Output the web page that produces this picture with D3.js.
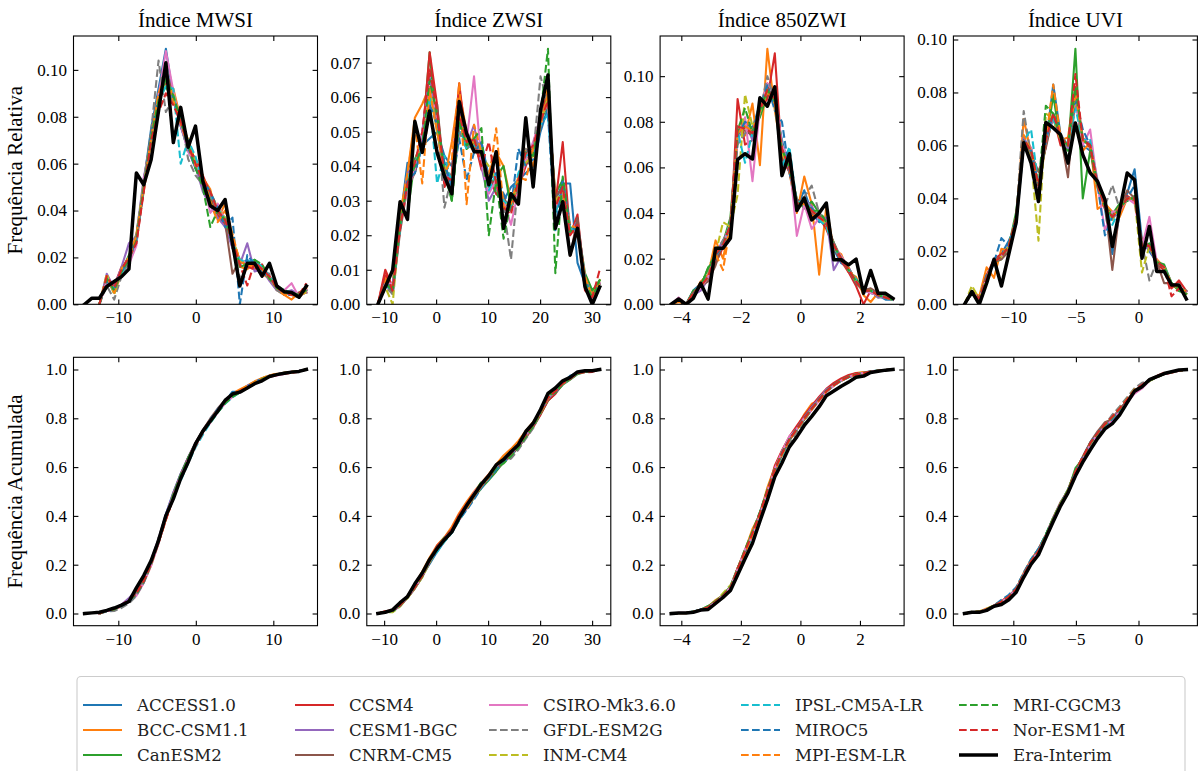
<!DOCTYPE html>
<html><head><meta charset="utf-8">
<script src="https://cdn.jsdelivr.net/npm/d3@7"></script>
<style>body{margin:0;background:#fff}svg{display:block}</style>
</head><body>
<svg id="chart" width="1198" height="771"></svg>
<script>
// ---------------- DATA ----------------
const modelNames = ["ACCESS1.0","BCC-CSM1.1","CanESM2","CCSM4","CESM1-BGC","CNRM-CM5","CSIRO-Mk3.6.0","GFDL-ESM2G","INM-CM4","IPSL-CM5A-LR","MIROC5","MPI-ESM-LR","MRI-CGCM3","Nor-ESM1-M"];
const modelColors = ["#1f77b4","#ff7f0e","#2ca02c","#d62728","#9467bd","#8c564b","#e377c2","#7f7f7f","#bcbd22","#17becf","#1f77b4","#ff7f0e","#2ca02c","#d62728"];
const modelDashed = [false,false,false,false,false,false,false,true,true,true,true,true,true,true];
const refName = "Era-Interim";
const panelTitles = ["Índice MWSI","Índice ZWSI","Índice 850ZWI","Índice UVI"];

// MWSI
const mwsiX = [-14.35,-13.40,-12.44,-11.49,-10.53,-9.58,-8.63,-7.67,-6.72,-5.76,-4.81,-3.86,-2.90,-1.95,-0.99,-0.04,0.91,1.87,2.82,3.78,4.73,5.68,6.64,7.59,8.55,9.50,10.45,11.41,12.36,13.32,14.27];
const mwsiEra = [0,0.0026,0.0026,0.0076,0.0097,0.0118,0.015,0.056,0.051,0.0618,0.0825,0.103,0.069,0.084,0.067,0.076,0.0525,0.042,0.040,0.0447,0.026,0.0078,0.0175,0.0175,0.012,0.0175,0.0078,0.0054,0.005,0.003,0.0078];
const mwsiModels = [
[null,null,0,0.010,0.007,0.015,0.019,0.027,0.052,0.075,0.092,0.109,0.088,0.076,0.066,0.058,0.052,0.046,0.041,0.035,0.025,0.017,0.019,0.016,0.015,0.011,0.007,0.006,0.004,0.003,0.006],
[null,null,0,0.011,0.005,0.013,0.019,0.030,0.048,0.070,0.090,0.096,0.092,0.079,0.070,0.060,0.054,0.049,0.036,0.043,0.029,0.016,0.015,0.018,0.013,0.011,0.006,0.004,0.002,0.005,0.007],
[null,null,0,0.012,0.006,0.014,0.021,0.028,0.050,0.072,0.087,0.093,0.086,0.080,0.069,0.061,0.050,0.045,0.039,0.037,0.024,0.016,0.017,0.019,0.014,0.012,0.008,0.006,0.005,0.004,0.006],
[null,null,0,0.010,0.008,0.016,0.018,0.026,0.049,0.071,0.086,0.095,0.090,0.077,0.067,0.062,0.055,0.047,0.038,0.034,0.027,0.019,0.016,0.015,0.017,0.011,0.008,0.005,0.005,0.004,0.005],
[null,null,0,0.013,0.007,0.016,0.026,0.029,0.054,0.070,0.085,0.097,0.087,0.076,0.066,0.059,0.048,0.042,0.037,0.033,0.024,0.017,0.026,0.014,0.015,0.010,0.006,0.005,0.006,0.004,0.005],
[null,null,0,0.011,0.005,0.015,0.020,0.028,0.051,0.073,0.089,0.100,0.089,0.078,0.068,0.060,0.051,0.047,0.040,0.035,0.013,0.019,0.017,0.018,0.016,0.012,0.007,0.005,0.004,0.005,0.006],
[null,null,0,0.010,0.006,0.014,0.017,0.025,0.053,0.071,0.089,0.108,0.091,0.077,0.065,0.060,0.053,0.039,0.043,0.036,0.027,0.018,0.018,0.017,0.016,0.012,0.007,0.006,0.009,0.003,0.006],
[null,null,0,0.008,0.002,0.012,0.018,0.030,0.052,0.074,0.104,0.082,0.088,0.080,0.062,0.055,0.051,0.046,0.040,0.036,0.027,0.011,0.016,0.019,0.014,0.013,0.006,0.004,0.005,0.004,0.006],
[null,null,0,0.013,0.004,0.015,0.020,0.029,0.051,0.070,0.088,0.094,0.090,0.078,0.070,0.061,0.053,0.048,0.041,0.037,0.028,0.019,0.017,0.017,0.015,0.011,0.007,0.005,0.004,0.004,0.005],
[null,null,0,0.011,0.007,0.013,0.020,0.027,0.050,0.072,0.087,0.093,0.092,0.060,0.070,0.063,0.052,0.047,0.041,0.036,0.026,0.019,0.018,0.019,0.016,0.012,0.007,0.006,0.005,0.003,0.006],
[null,null,0,0.010,0.006,0.014,0.019,0.028,0.049,0.073,0.088,0.097,0.088,0.079,0.067,0.058,0.053,0.048,0.041,0.033,0.037,0.000,0.021,0.017,0.014,0.011,0.008,0.004,0.004,0.004,0.006],
[null,null,0,0.012,0.005,0.015,0.020,0.029,0.050,0.071,0.090,0.098,0.087,0.077,0.068,0.059,0.055,0.044,0.035,0.040,0.030,0.018,0.017,0.016,0.015,0.011,0.007,0.004,0.004,0.003,0.006],
[null,null,0,0.011,0.006,0.014,0.019,0.027,0.050,0.071,0.087,0.096,0.089,0.078,0.068,0.058,0.050,0.033,0.040,0.036,0.026,0.017,0.017,0.019,0.017,0.011,0.007,0.005,0.005,0.004,0.006],
[null,null,0,0.012,0.007,0.015,0.020,0.026,0.048,0.070,0.082,0.090,0.085,0.078,0.068,0.060,0.053,0.048,0.040,0.036,0.027,0.017,0.008,0.018,0.015,0.012,0.007,0.005,0.004,0.004,0.009]
];
const mwsiXTicks = [-10,0,10];
const mwsiYTicks = [0,0.02,0.04,0.06,0.08,0.10];

// ZWSI
const zwsiX = [-11.20,-9.78,-8.36,-6.93,-5.51,-4.09,-2.67,-1.25,0.18,1.60,3.02,4.44,5.86,7.29,8.71,10.13,11.55,12.97,14.40,15.82,17.24,18.66,20.08,21.51,22.93,24.35,25.77,27.19,28.62,30.04,31.46];
const zwsiEra = [0,0.005,0.0099,0.0297,0.0246,0.053,0.044,0.056,0.044,0.037,0.032,0.0587,0.0495,0.0442,0.0442,0.0346,0.0442,0.022,0.032,0.029,0.054,0.034,0.0563,0.0664,0.022,0.0297,0.0143,0.022,0.0051,0,0.005];
const zwsiModels = [
[0,0.006,0.003,0.024,0.041,0.038,0.046,0.048,0.050,0.043,0.040,0.052,0.048,0.046,0.047,0.037,0.032,0.030,0.034,0.036,0.038,0.040,0.050,0.057,0.030,0.035,0.035,0.012,0.006,0.002,0.006],
[0,0.008,0.005,0.026,0.038,0.054,0.058,0.063,0.055,0.036,0.047,0.062,0.050,0.046,0.041,0.038,0.044,0.040,0.030,0.036,0.045,0.040,0.052,0.063,0.028,0.033,0.022,0.020,0.008,0.003,0.007],
[0,0.007,0.005,0.028,0.026,0.042,0.047,0.073,0.050,0.040,0.030,0.054,0.045,0.047,0.041,0.034,0.037,0.040,0.028,0.035,0.042,0.046,0.053,0.058,0.032,0.036,0.022,0.023,0.009,0.004,0.007],
[0,0.010,0.005,0.024,0.036,0.040,0.048,0.073,0.058,0.034,0.038,0.064,0.046,0.048,0.039,0.037,0.032,0.030,0.028,0.034,0.040,0.045,0.055,0.061,0.029,0.047,0.020,0.026,0.006,0.001,0.006],
[0,0.006,0.004,0.022,0.038,0.040,0.050,0.066,0.052,0.038,0.036,0.056,0.046,0.052,0.040,0.030,0.034,0.028,0.030,0.036,0.044,0.046,0.055,0.059,0.030,0.032,0.021,0.024,0.008,0.002,0.006],
[0,0.007,0.003,0.021,0.034,0.038,0.049,0.058,0.058,0.037,0.033,0.050,0.047,0.045,0.043,0.036,0.035,0.031,0.027,0.036,0.043,0.044,0.054,0.060,0.031,0.034,0.014,0.025,0.007,0.002,0.006],
[0,0.006,0.006,0.024,0.033,0.039,0.049,0.062,0.054,0.036,0.034,0.050,0.047,0.066,0.041,0.032,0.036,0.030,0.023,0.033,0.042,0.047,0.054,0.058,0.028,0.033,0.022,0.021,0.007,0.002,0.006],
[0,0.005,0.003,0.022,0.036,0.040,0.046,0.060,0.054,0.028,0.037,0.050,0.045,0.048,0.044,0.036,0.038,0.028,0.013,0.036,0.045,0.043,0.066,0.058,0.027,0.031,0.021,0.022,0.008,0.002,0.005],
[0,0.005,0.000,0.025,0.035,0.042,0.045,0.062,0.050,0.040,0.036,0.055,0.047,0.047,0.043,0.040,0.036,0.030,0.028,0.036,0.041,0.043,0.053,0.060,0.030,0.033,0.022,0.022,0.007,0.002,0.005],
[0,0.006,0.004,0.022,0.037,0.040,0.047,0.060,0.035,0.043,0.035,0.052,0.045,0.046,0.045,0.033,0.038,0.030,0.028,0.038,0.043,0.044,0.052,0.055,0.026,0.034,0.022,0.021,0.007,0.002,0.006],
[0,0.006,0.005,0.023,0.036,0.038,0.046,0.058,0.052,0.041,0.034,0.048,0.036,0.044,0.047,0.036,0.038,0.032,0.028,0.045,0.040,0.042,0.053,0.055,0.021,0.036,0.023,0.021,0.007,0.002,0.006],
[0,0.007,0.005,0.025,0.038,0.052,0.035,0.062,0.050,0.038,0.042,0.064,0.029,0.052,0.044,0.036,0.051,0.028,0.029,0.037,0.036,0.045,0.052,0.061,0.029,0.032,0.023,0.022,0.008,0.002,0.006],
[0,0.006,0.004,0.023,0.035,0.040,0.046,0.065,0.055,0.038,0.030,0.053,0.046,0.048,0.051,0.020,0.036,0.019,0.030,0.035,0.044,0.043,0.055,0.074,0.009,0.037,0.021,0.022,0.006,0.002,0.007],
[0,0.009,0.004,0.022,0.035,0.041,0.050,0.068,0.056,0.037,0.036,0.055,0.047,0.048,0.040,0.047,0.035,0.028,0.026,0.036,0.044,0.046,0.053,0.059,0.028,0.034,0.020,0.023,0.004,0.002,0.010]
];
const zwsiXTicks = [-10,0,10,20,30];
const zwsiYTicks = [0,0.01,0.02,0.03,0.04,0.05,0.06,0.07];

// 850ZWI
const zwiX = [-4.34,-4.09,-3.84,-3.60,-3.35,-3.10,-2.85,-2.60,-2.35,-2.11,-1.86,-1.61,-1.36,-1.11,-0.86,-0.62,-0.37,-0.12,0.13,0.38,0.63,0.87,1.12,1.37,1.62,1.87,2.12,2.36,2.61,2.86,3.11];
const zwiEra = [0,0.0023,0,0.0026,0.0092,0.0023,0.0246,0.0246,0.029,0.0634,0.066,0.0637,0.0905,0.0868,0.0953,0.0564,0.066,0.0411,0.0466,0.037,0.040,0.0444,0.0195,0.0195,0.0173,0.0198,0.0048,0.0148,0.0048,0.0048,0.0026];
const zwiModels = [
[0,0.002,0,0.006,0.009,0.011,0.023,0.025,0.034,0.072,0.080,0.077,0.088,0.092,0.088,0.072,0.058,0.042,0.050,0.040,0.036,0.037,0.024,0.018,0.016,0.010,0.006,0.005,0.004,0.002,0.002],
[0,0.001,0,0.004,0.010,0.013,0.028,0.020,0.036,0.078,0.074,0.088,0.061,0.112,0.085,0.066,0.058,0.040,0.056,0.044,0.013,0.043,0.024,0.022,0.014,0.012,0.004,0.001,0.005,0.003,0.002],
[0,0.002,0,0.006,0.008,0.016,0.020,0.027,0.038,0.076,0.078,0.076,0.082,0.092,0.090,0.070,0.062,0.046,0.042,0.045,0.040,0.035,0.027,0.020,0.015,0.011,0.007,0.006,0.003,0.004,0.002],
[0,0.002,0,0.005,0.008,0.012,0.018,0.025,0.030,0.090,0.070,0.072,0.086,0.090,0.110,0.064,0.058,0.045,0.044,0.040,0.038,0.033,0.025,0.019,0.014,0.008,0.000,0.006,0.004,0.003,0.002],
[0,0.002,0,0.004,0.006,0.011,0.022,0.028,0.034,0.074,0.080,0.072,0.085,0.094,0.091,0.068,0.059,0.044,0.046,0.043,0.037,0.038,0.015,0.021,0.016,0.010,0.007,0.006,0.003,0.003,0.002],
[0,0.002,0,0.005,0.008,0.010,0.017,0.027,0.035,0.078,0.076,0.074,0.087,0.096,0.088,0.066,0.061,0.046,0.044,0.041,0.039,0.035,0.027,0.020,0.015,0.009,0.006,0.007,0.005,0.003,0.002],
[0,0.003,0,0.004,0.007,0.012,0.021,0.026,0.036,0.072,0.082,0.054,0.086,0.097,0.092,0.070,0.063,0.030,0.044,0.033,0.038,0.036,0.026,0.021,0.015,0.010,0.006,0.005,0.004,0.003,0.002],
[0,0.002,0,0.005,0.009,0.013,0.023,0.028,0.033,0.070,0.075,0.077,0.084,0.100,0.089,0.068,0.058,0.044,0.047,0.052,0.040,0.037,0.026,0.020,0.016,0.010,0.006,0.006,0.004,0.003,0.002],
[0,0.002,0,0.005,0.008,0.012,0.022,0.036,0.034,0.048,0.092,0.078,0.084,0.093,0.090,0.066,0.060,0.043,0.045,0.041,0.038,0.035,0.025,0.020,0.015,0.010,0.006,0.006,0.004,0.003,0.002],
[0,0.002,0,0.005,0.008,0.012,0.022,0.025,0.036,0.076,0.062,0.075,0.085,0.094,0.089,0.060,0.069,0.044,0.046,0.041,0.037,0.034,0.025,0.020,0.015,0.011,0.006,0.006,0.004,0.003,0.002],
[0,0.002,0,0.005,0.009,0.012,0.021,0.026,0.035,0.074,0.080,0.077,0.086,0.096,0.085,0.080,0.058,0.045,0.044,0.042,0.038,0.036,0.026,0.020,0.015,0.010,0.006,0.006,0.004,0.003,0.002],
[0,0.002,0,0.005,0.008,0.012,0.022,0.015,0.035,0.075,0.078,0.076,0.085,0.094,0.088,0.068,0.060,0.044,0.044,0.041,0.038,0.036,0.026,0.020,0.016,0.010,0.006,0.006,0.004,0.003,0.002],
[0,0.002,0,0.005,0.008,0.016,0.022,0.026,0.035,0.076,0.086,0.075,0.085,0.094,0.089,0.068,0.060,0.044,0.045,0.041,0.041,0.036,0.026,0.020,0.015,0.010,0.006,0.006,0.004,0.003,0.002],
[0,0.002,0,0.005,0.008,0.012,0.022,0.026,0.035,0.078,0.077,0.075,0.085,0.094,0.090,0.068,0.060,0.044,0.045,0.041,0.038,0.036,0.026,0.020,0.015,0.010,0.006,0.006,0.004,0.003,0.002]
];
const zwiXTicks = [-4,-2,0,2];
const zwiYTicks = [0,0.02,0.04,0.06,0.08,0.10];

// UVI
const uviX = [-13.90,-13.31,-12.72,-12.13,-11.54,-10.95,-10.36,-9.77,-9.17,-8.58,-7.99,-7.40,-6.81,-6.22,-5.63,-5.04,-4.45,-3.86,-3.27,-2.68,-2.09,-1.50,-0.90,-0.31,0.28,0.87,1.46,2.05,2.64,3.23,3.82];
const uviEra = [0,0.0048,0,0.008,0.017,0.0069,0.019,0.031,0.061,0.0533,0.0388,0.0687,0.0666,0.064,0.0533,0.0685,0.0565,0.0496,0.0464,0.0395,0.0218,0.0357,0.0496,0.047,0.0174,0.0294,0.0124,0.0124,0.0073,0.0073,0.002];
const uviModels = [
[0,0.004,0.002,0.011,0.015,0.019,0.024,0.030,0.060,0.056,0.046,0.060,0.083,0.064,0.060,0.078,0.060,0.058,0.046,0.036,0.019,0.034,0.042,0.051,0.024,0.020,0.016,0.013,0.008,0.006,0.005],
[0,0.005,0.003,0.014,0.010,0.021,0.020,0.031,0.070,0.057,0.044,0.060,0.071,0.062,0.063,0.082,0.058,0.061,0.036,0.038,0.035,0.033,0.040,0.040,0.022,0.022,0.017,0.014,0.007,0.006,0.004],
[0,0.004,0.002,0.010,0.016,0.017,0.022,0.035,0.061,0.055,0.046,0.060,0.079,0.061,0.058,0.0965,0.040,0.058,0.044,0.037,0.034,0.038,0.039,0.041,0.021,0.023,0.016,0.015,0.008,0.005,0.004],
[0,0.005,0.002,0.011,0.017,0.019,0.021,0.033,0.062,0.059,0.045,0.064,0.071,0.060,0.061,0.082,0.063,0.059,0.045,0.036,0.033,0.037,0.041,0.039,0.024,0.022,0.015,0.013,0.006,0.009,0.005],
[0,0.004,0.002,0.010,0.016,0.018,0.022,0.032,0.063,0.058,0.045,0.062,0.070,0.063,0.059,0.077,0.062,0.061,0.047,0.037,0.032,0.036,0.040,0.040,0.022,0.021,0.016,0.014,0.008,0.006,0.005],
[0,0.004,0.002,0.010,0.016,0.017,0.020,0.033,0.061,0.057,0.050,0.059,0.072,0.064,0.048,0.079,0.062,0.060,0.046,0.038,0.013,0.036,0.043,0.040,0.023,0.022,0.016,0.008,0.008,0.006,0.005],
[0,0.005,0.002,0.010,0.016,0.018,0.022,0.032,0.062,0.059,0.044,0.062,0.071,0.063,0.060,0.078,0.060,0.066,0.045,0.028,0.035,0.035,0.040,0.038,0.022,0.033,0.016,0.014,0.008,0.006,0.005],
[0,0.005,0.002,0.010,0.016,0.018,0.022,0.033,0.073,0.056,0.045,0.061,0.072,0.064,0.060,0.080,0.062,0.060,0.045,0.037,0.045,0.036,0.040,0.040,0.023,0.009,0.016,0.014,0.008,0.006,0.005],
[0,0.007,0.002,0.010,0.016,0.018,0.022,0.033,0.061,0.055,0.024,0.072,0.070,0.062,0.060,0.079,0.062,0.060,0.045,0.037,0.032,0.037,0.040,0.040,0.012,0.022,0.016,0.014,0.008,0.006,0.005],
[0,0.005,0.002,0.010,0.016,0.018,0.022,0.033,0.062,0.066,0.045,0.062,0.070,0.063,0.060,0.074,0.062,0.062,0.045,0.037,0.030,0.036,0.040,0.040,0.022,0.022,0.016,0.014,0.008,0.006,0.005],
[0,0.005,0.002,0.011,0.016,0.025,0.022,0.033,0.062,0.058,0.045,0.062,0.072,0.063,0.060,0.078,0.066,0.060,0.045,0.026,0.033,0.036,0.040,0.045,0.022,0.022,0.016,0.014,0.008,0.006,0.005],
[0,0.005,0.002,0.010,0.016,0.018,0.022,0.033,0.064,0.058,0.045,0.062,0.083,0.063,0.060,0.080,0.062,0.060,0.045,0.037,0.033,0.036,0.040,0.040,0.022,0.022,0.016,0.014,0.008,0.006,0.005],
[0,0.005,0.002,0.010,0.016,0.018,0.022,0.033,0.062,0.058,0.045,0.075,0.072,0.063,0.060,0.082,0.062,0.060,0.045,0.037,0.033,0.036,0.040,0.040,0.022,0.022,0.016,0.014,0.008,0.006,0.005],
[0,0.005,0.002,0.010,0.016,0.018,0.022,0.033,0.062,0.058,0.045,0.062,0.072,0.063,0.060,0.087,0.062,0.060,0.045,0.037,0.033,0.036,0.040,0.040,0.022,0.022,0.016,0.014,0.003,0.006,0.005]
];
const uviXTicks = [-10,-5,0];
const uviYTicks = [0,0.02,0.04,0.06,0.08,0.10];

const cdfYTicks = [0,0.2,0.4,0.6,0.8,1.0];
const yLabelTop = "Frequência Relativa";
const yLabelBottom = "Frequência Acumulada";

// ---------------- LAYOUT ----------------
const panels = [
  {title: panelTitles[0], x: mwsiX, era: mwsiEra, models: mwsiModels, xt: mwsiXTicks, yt: mwsiYTicks},
  {title: panelTitles[1], x: zwsiX, era: zwsiEra, models: zwsiModels, xt: zwsiXTicks, yt: zwsiYTicks},
  {title: panelTitles[2], x: zwiX, era: zwiEra, models: zwiModels, xt: zwiXTicks, yt: zwiYTicks},
  {title: panelTitles[3], x: uviX, era: uviEra, models: uviModels, xt: uviXTicks, yt: uviYTicks}
];
const W = 244;
const lefts = [73.5, 366.8, 660.1, 953.4];
const rowTop = {top: 36, bottom: 304.3};
const rowBot = {top: 357.3, bottom: 625.7};
const serif = "Liberation Serif, Times New Roman, serif";
const tickFont = 17;

const svg = d3.select("#chart");
svg.append("rect").attr("width",1198).attr("height",771).attr("fill","#fff");
const defs = svg.append("defs");

function cumul(vals){
  const total = d3.sum(vals.map(v => v == null ? 0 : v));
  let acc = 0;
  return vals.map(v => { if (v == null) return null; acc += v; return acc/total; });
}

function drawAxes(g, x, y, row, xt, yt, yfmt){
  const tl = 4.9;
  const ax = g.append("g").attr("transform",`translate(0,${row.bottom})`)
    .call(d3.axisBottom(x).tickValues(xt).tickFormat(d3.format("d")).tickSizeInner(-tl).tickSizeOuter(0).tickPadding(7));
  const at = g.append("g").attr("transform",`translate(0,${row.top})`)
    .call(d3.axisTop(x).tickValues(xt).tickFormat("").tickSizeInner(-tl).tickSizeOuter(0));
  const ay = g.append("g").attr("transform",`translate(${x.range()[0]},0)`)
    .call(d3.axisLeft(y).tickValues(yt).tickFormat(d3.format(yfmt)).tickSizeInner(-tl).tickSizeOuter(0).tickPadding(6.5));
  const ar = g.append("g").attr("transform",`translate(${x.range()[1]},0)`)
    .call(d3.axisRight(y).tickValues(yt).tickFormat("").tickSizeInner(-tl).tickSizeOuter(0));
  [ax,at,ay,ar].forEach(a => {
    a.attr("font-family", serif).attr("font-size", tickFont);
    a.select(".domain").remove();
    a.selectAll(".tick line").attr("stroke","#000").attr("stroke-width",1.1);
    a.selectAll("text").style("font-family",serif).style("font-size",tickFont+"px").attr("fill","#000");
  });
  g.append("rect").attr("x",x.range()[0]).attr("y",row.top)
    .attr("width",x.range()[1]-x.range()[0]).attr("height",row.bottom-row.top)
    .attr("fill","none").attr("stroke","#000").attr("stroke-width",1.1);
}

function drawLines(g, x, y, xs, models, era, clipId){
  const lg = g.append("g").attr("clip-path",`url(#${clipId})`);
  const line = d3.line().defined(d => d[1] != null).x(d => x(d[0])).y(d => y(d[1]));
  models.forEach((vals, mi) => {
    const pts = xs.map((xv,i) => [xv, vals[i]]);
    lg.append("path").attr("d", line(pts)).attr("fill","none")
      .attr("stroke", modelColors[mi]).attr("stroke-width",2.08)
      .attr("stroke-linejoin","round")
      .attr("stroke-linecap", modelDashed[mi] ? "butt" : "square")
      .attr("stroke-dasharray", modelDashed[mi] ? "7.7,3.3" : null);
  });
  const pts = xs.map((xv,i) => [xv, era[i]]);
  lg.append("path").attr("d", line(pts)).attr("fill","none")
    .attr("stroke","#000").attr("stroke-width",3.5).attr("stroke-linejoin","round").attr("stroke-linecap","square");
}

panels.forEach((p, pi) => {
  const x0 = lefts[pi], x1 = x0 + W;
  const xmin = d3.min(p.x), xmax = d3.max(p.x), pad = (xmax - xmin) * 0.05;
  const x = d3.scaleLinear().domain([xmin - pad, xmax + pad]).range([x0, x1]);
  const allVals = p.models.flat().concat(p.era).filter(v => v != null);
  const yT = d3.scaleLinear().domain([0, d3.max(allVals) * 1.05]).range([rowTop.bottom, rowTop.top]);
  const yB = d3.scaleLinear().domain([-0.05, 1.05]).range([rowBot.bottom, rowBot.top]);

  [[rowTop,"t"],[rowBot,"b"]].forEach(([row,k]) => {
    defs.append("clipPath").attr("id",`clip${pi}${k}`).append("rect")
      .attr("x",x0).attr("y",row.top).attr("width",W).attr("height",row.bottom-row.top);
  });

  const gT = svg.append("g");
  drawLines(gT, x, yT, p.x, p.models, p.era, `clip${pi}t`);
  drawAxes(gT, x, yT, rowTop, p.xt, p.yt, ".2f");

  const gB = svg.append("g");
  drawLines(gB, x, yB, p.x, p.models.map(cumul), cumul(p.era), `clip${pi}b`);
  drawAxes(gB, x, yB, rowBot, p.xt, cdfYTicks, ".1f");

  svg.append("text").attr("x",(x0+x1)/2).attr("y",27).attr("text-anchor","middle")
    .style("font-family",serif).style("font-size","21px").attr("fill","#000").text(p.title);
});

[[yLabelTop,rowTop],[yLabelBottom,rowBot]].forEach(([t,row]) => {
  const cy = (row.top+row.bottom)/2;
  svg.append("text").attr("transform",`translate(22,${cy}) rotate(-90)`).attr("text-anchor","middle")
    .style("font-family",serif).style("font-size","21px").attr("fill","#000").text(t);
});

// ---------------- LEGEND ----------------
const legNames = modelNames.concat([refName]);
const legColors = modelColors.concat(["#000"]);
const legDashed = modelDashed.concat([false]);
const legG = svg.append("g");
legG.append("rect").attr("x",77).attr("y",676.5).attr("width",1108).attr("height",130).attr("rx",4)
  .attr("fill","#fff").attr("fill-opacity",0.8).attr("stroke","#cccccc").attr("stroke-width",1.1);
const colText = [137, 349, 543, 795, 1013];
const rowY = [705, 730, 755];
legNames.forEach((n, i) => {
  const c = Math.floor(i/3), r = i % 3;
  const tx = colText[c], yy = rowY[r];
  legG.append("line").attr("x1",tx-54).attr("x2",tx-15).attr("y1",yy).attr("y2",yy)
    .attr("stroke",legColors[i]).attr("stroke-width", i === 14 ? 3.5 : 2.08)
    .attr("stroke-dasharray", legDashed[i] ? "7.7,3.3" : null);
  legG.append("text").attr("x",tx).attr("y",yy).attr("dy","0.36em")
    .style("font-family","DejaVu Serif, serif").style("font-size","16.7px").attr("fill","#222").text(n);
});
</script>
</body></html>
